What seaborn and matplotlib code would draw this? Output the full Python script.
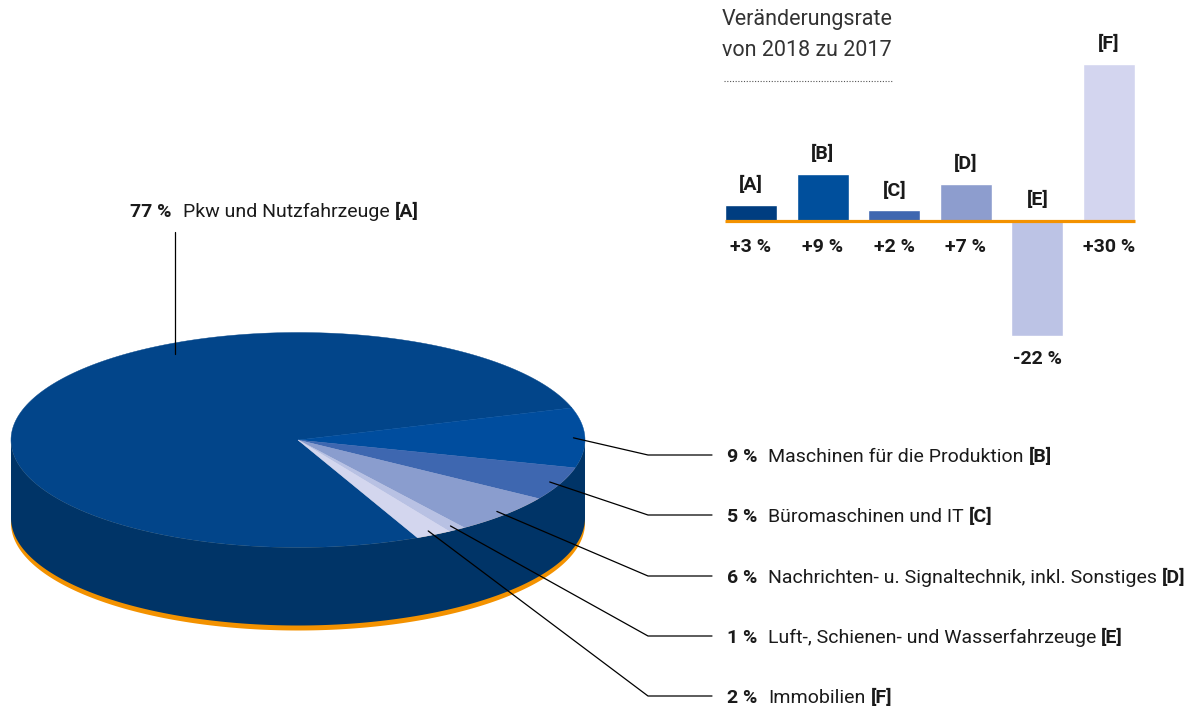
import numpy as np
import pandas as pd
import matplotlib
matplotlib.use("Agg")
import matplotlib.pyplot as plt
import seaborn as sns

# ------------------------
# Données
# ------------------------
categories = ["A", "B", "C", "D", "E", "F"]
shares = [77, 9, 5, 6, 1, 2]            # Anteil in %
changes = [3, 9, 2, 7, -22, 30]         # Veränderungsrate 2018 zu 2017 in %
names = [
    "Pkw und Nutzfahrzeuge",
    "Maschinen für die Produktion",
    "Büromaschinen und IT",
    "Nachrichten- u. Signaltechnik, inkl. Sonstiges",
    "Luft-, Schienen- und Wasserfahrzeuge",
    "Immobilien",
]
title_lines = ["Veränderungsrate", "von 2018 zu 2017"]

pie_colors = ["#02458a", "#004d9e", "#3e67b0", "#8a9dce", "#b8c1e3", "#d3d6ee"]
bar_colors = ["#003d80", "#004f9c", "#3f67b0", "#8d9dce", "#bcc3e5", "#d3d5ef"]
side_color = "#003467"
orange = "#f39200"
text_color = "#1a1a1a"

# ------------------------
# Mise en page (pixels)
# ------------------------
W, H = 1199, 709
CX, CY, RX, RY, DEPTH = 298, 440, 287, 107.5, 78
START = 294.6                 # angle de départ, sens horaire
label_y = [210, 455, 515, 576, 636, 696]
elbow_x, line_end_x = 648, 712
pct_x, txt_x = 727, 768

sns.set_style("white")
plt.rcParams["font.family"] = ["Roboto", "DejaVu Sans"]
FS = 14

fig = plt.figure(figsize=(W / 100, H / 100), dpi=100)
ax = fig.add_axes([0, 0, 1, 1])
ax.set_xlim(0, W)
ax.set_ylim(H, 0)
ax.axis("off")


def ell(theta_deg, r=1.0, dy=0.0):
    t = np.radians(theta_deg)
    return CX + RX * r * np.cos(t), CY - RY * r * np.sin(t) + dy


# ------------------------
# Camembert 3D
# ------------------------
front = np.linspace(180, 360, 200)
for extra, col in [(5, orange), (0, side_color)]:
    xt, yt = ell(front)
    xb, yb = ell(front[::-1], dy=DEPTH + extra)
    ax.fill(np.r_[xt, xb], np.r_[yt, yb], color=col, lw=0, zorder=1 if extra else 2)

bounds = START - 3.6 * np.r_[0, np.cumsum(shares)]
for i in range(len(shares)):
    th = np.linspace(bounds[i], bounds[i + 1], 200)
    xs, ys = ell(th)
    ax.fill(np.r_[CX, xs], np.r_[CY, ys], color=pie_colors[i], lw=0.3,
            ec=pie_colors[i], zorder=3)

# ------------------------
# Lignes de rappel et étiquettes
# ------------------------
mids = (bounds[:-1] + bounds[1:]) / 2
# A : ligne verticale
ax_, ay_ = ell(118, r=0.91)
ax.plot([ax_, ax_], [ay_, label_y[0] + 22], color="black", lw=0.9, zorder=5)
ax.text(171, label_y[0], f"{shares[0]} %", ha="right", va="center_baseline",
        fontsize=FS, fontweight="bold", color=text_color)
t = ax.text(183, label_y[0], names[0], ha="left", va="center_baseline",
            fontsize=FS, color=text_color)
ax.annotate(f"[{categories[0]}]", xy=(1, label_y[0]), xycoords=(t, "data"),
            xytext=(5, 0), textcoords="offset pixels", va="center_baseline",
            fontsize=FS, fontweight="bold", color=text_color)

for i in range(1, len(shares)):
    sx, sy = ell(mids[i], r=0.96)
    ax.plot([sx, elbow_x, line_end_x], [sy, label_y[i], label_y[i]],
            color="black", lw=0.9, zorder=5)
    ax.text(pct_x, label_y[i], f"{shares[i]} %", ha="left", va="center_baseline",
            fontsize=FS, fontweight="bold", color=text_color)
    t = ax.text(txt_x, label_y[i], names[i], ha="left", va="center_baseline",
                fontsize=FS, color=text_color)
    ax.annotate(f"[{categories[i]}]", xy=(1, label_y[i]), xycoords=(t, "data"),
                xytext=(5, 0), textcoords="offset pixels", va="center_baseline",
                fontsize=FS, fontweight="bold", color=text_color)

# ------------------------
# Titre du diagramme à barres
# ------------------------
ax.text(722, 20, title_lines[0], ha="left", va="center", fontsize=15.5, color="#333333")
ax.text(722, 50, title_lines[1], ha="left", va="center", fontsize=15.5, color="#333333")
ax.plot([724, 893], [81, 81], color="#555555", lw=0.8, ls=(0, (1, 1.5)))

# ------------------------
# Diagramme à barres
# ------------------------
ax2 = fig.add_axes([715.2 / W, 1 - 360 / H, 429.6 / W, 320 / H])
df = pd.DataFrame({"cat": categories, "change": changes})
sns.barplot(data=df, x="cat", y="change", hue="cat", palette=bar_colors,
            width=0.726, saturation=1, legend=False, ax=ax2, zorder=2)
ax2.set_xlim(-0.5, 5.5)
ax2.set_ylim(-26.6, 34.6)
ax2.axis("off")
ax2.patch.set_alpha(0)
ax2.hlines(0, -0.363, 5.363, color=orange, lw=2.3, zorder=4)

for i, v in enumerate(changes):
    if v >= 0:
        ax2.annotate(f"[{categories[i]}]", xy=(i, v), xytext=(0, 20),
                     textcoords="offset pixels", ha="center", va="center",
                     fontsize=FS, fontweight="bold", color=text_color)
        ax2.annotate(f"{v:+d} %", xy=(i, 0), xytext=(0, -26),
                     textcoords="offset pixels", ha="center", va="center",
                     fontsize=FS, fontweight="bold", color=text_color)
    else:
        ax2.annotate(f"[{categories[i]}]", xy=(i, 0), xytext=(0, 21),
                     textcoords="offset pixels", ha="center", va="center",
                     fontsize=FS, fontweight="bold", color=text_color)
        ax2.annotate(f"{v:d} %", xy=(i, v), xytext=(0, -23),
                     textcoords="offset pixels", ha="center", va="center",
                     fontsize=FS, fontweight="bold", color=text_color)

fig.savefig("out.png", dpi=100)
